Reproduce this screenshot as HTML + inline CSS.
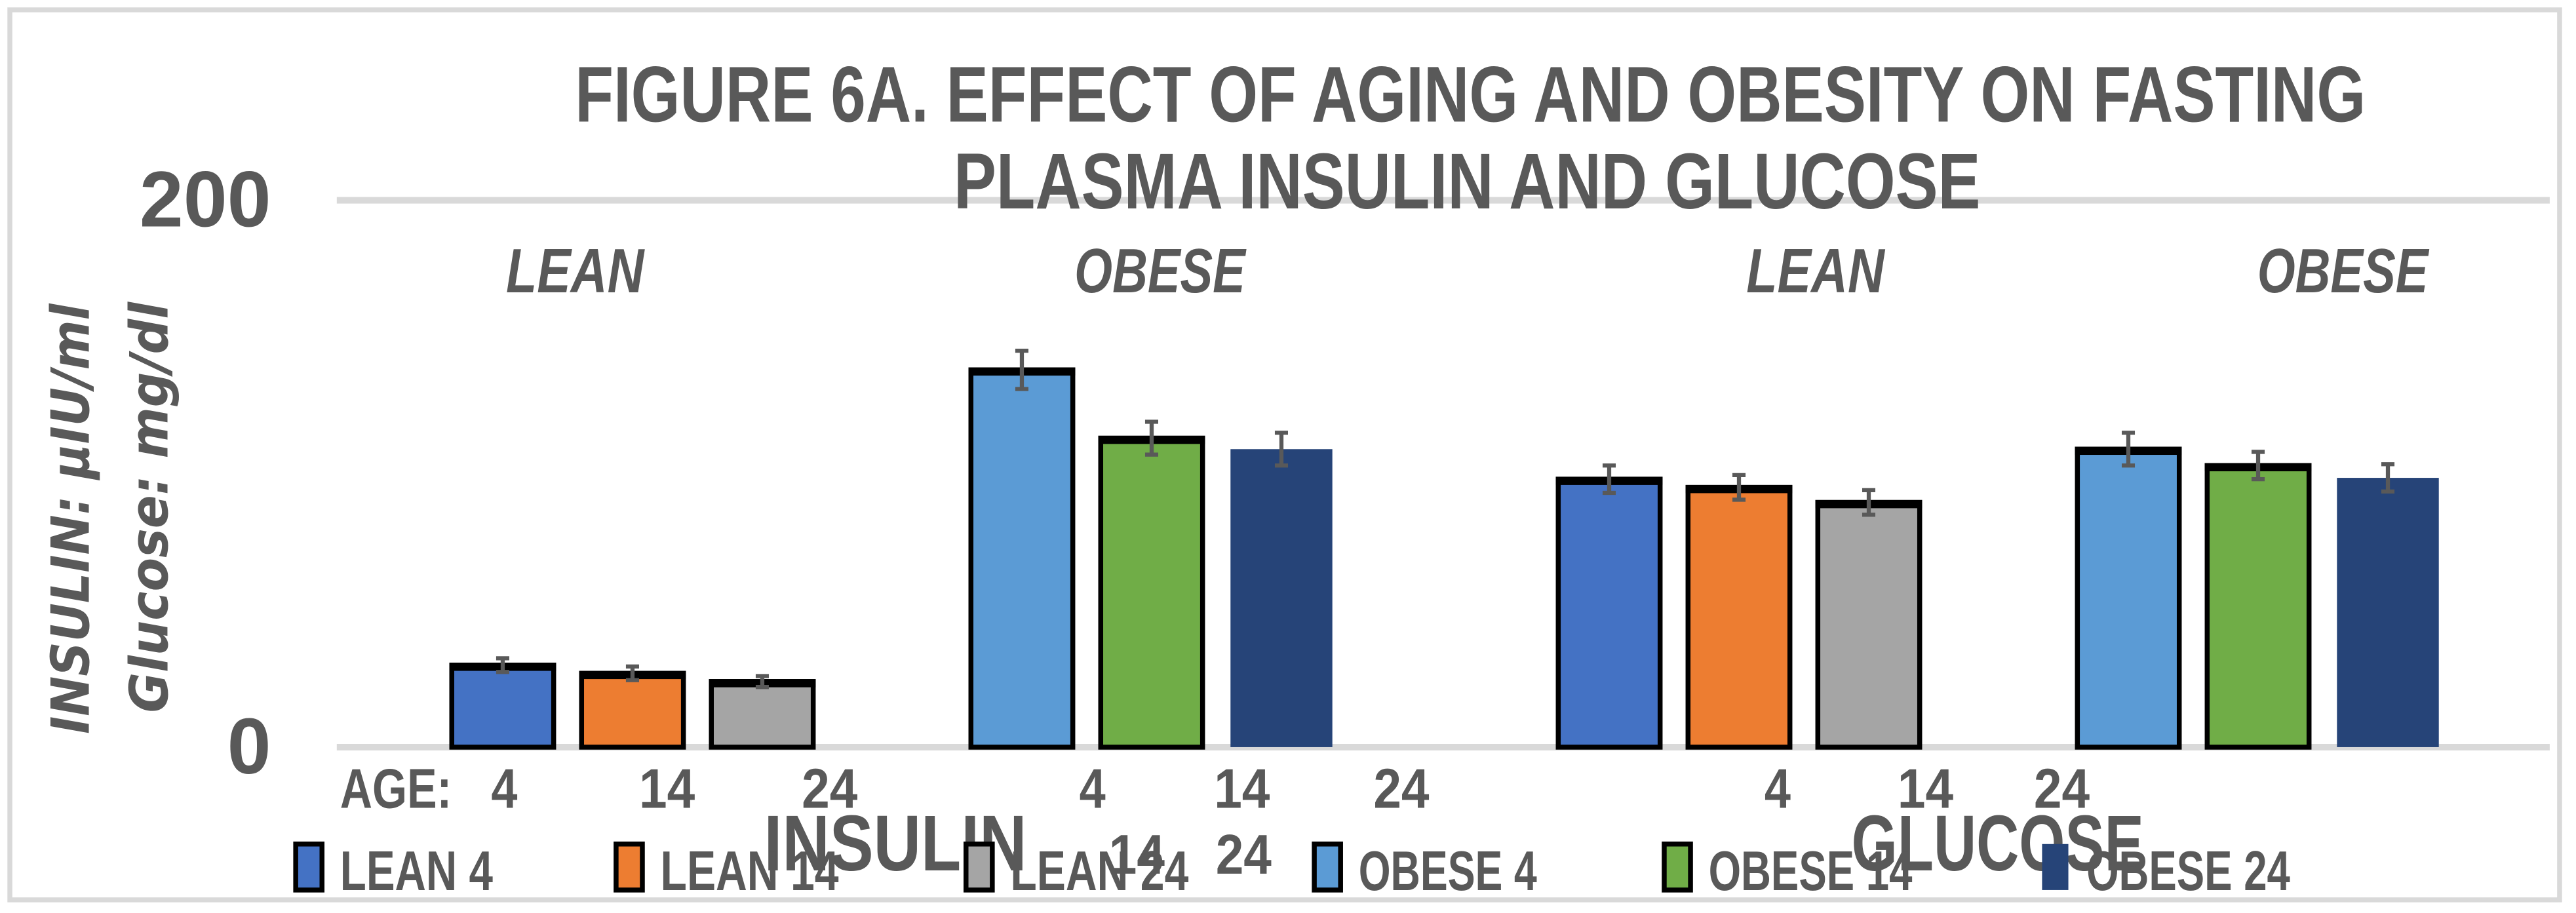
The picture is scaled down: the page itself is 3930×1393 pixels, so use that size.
<!DOCTYPE html>
<html><head><meta charset="utf-8"><style>
html,body{margin:0;padding:0;background:#fff;}
svg{display:block;}
text{font-family:"Liberation Sans",sans-serif;font-weight:bold;fill:#595959;}
</style></head><body>
<svg id="chart" width="3930" height="1393" viewBox="0 0 1568 556" preserveAspectRatio="none" xmlns="http://www.w3.org/2000/svg">
<rect x="6" y="6" width="1552" height="542" fill="#fff" stroke="#d9d9d9" stroke-width="3"/>
<g id="grid"></g>
<text x="895" y="74" text-anchor="middle" font-size="48" textLength="1090" lengthAdjust="spacingAndGlyphs">FIGURE 6A.  EFFECT OF AGING AND OBESITY ON FASTING</text>
<text x="893" y="127" text-anchor="middle" font-size="48" textLength="625" lengthAdjust="spacingAndGlyphs">PLASMA  INSULIN AND GLUCOSE</text>
<g id="bars"></g>
<text transform="translate(54,316) rotate(-90)" text-anchor="middle" font-size="32" font-style="italic" style="font-family:'DejaVu Sans',sans-serif" textLength="262" lengthAdjust="spacingAndGlyphs">INSULIN: µIU/ml</text>
<text transform="translate(102,309) rotate(-90)" text-anchor="middle" font-size="32" font-style="italic" style="font-family:'DejaVu Sans',sans-serif" textLength="250" lengthAdjust="spacingAndGlyphs">Glucose: mg/dl</text>
<text x="350" y="178" text-anchor="middle" font-size="38" font-style="italic" textLength="84" lengthAdjust="spacingAndGlyphs">LEAN</text>
<text x="706" y="178" text-anchor="middle" font-size="38" font-style="italic" textLength="104" lengthAdjust="spacingAndGlyphs">OBESE</text>
<text x="1105" y="178" text-anchor="middle" font-size="38" font-style="italic" textLength="84" lengthAdjust="spacingAndGlyphs">LEAN</text>
<text x="1426" y="178" text-anchor="middle" font-size="38" font-style="italic" textLength="104" lengthAdjust="spacingAndGlyphs">OBESE</text>
<g font-size="34">
<text x="207" y="492" textLength="68" lengthAdjust="spacingAndGlyphs">AGE:</text>
<text x="307" y="492" text-anchor="middle" textLength="16" lengthAdjust="spacingAndGlyphs">4</text>
<text x="406" y="492" text-anchor="middle" textLength="34" lengthAdjust="spacingAndGlyphs">14</text>
<text x="505" y="492" text-anchor="middle" textLength="34" lengthAdjust="spacingAndGlyphs">24</text>
<text x="665" y="492" text-anchor="middle" textLength="16" lengthAdjust="spacingAndGlyphs">4</text>
<text x="756" y="492" text-anchor="middle" textLength="34" lengthAdjust="spacingAndGlyphs">14</text>
<text x="853" y="492" text-anchor="middle" textLength="34" lengthAdjust="spacingAndGlyphs">24</text>
<text x="1082" y="492" text-anchor="middle" textLength="16" lengthAdjust="spacingAndGlyphs">4</text>
<text x="1172" y="492" text-anchor="middle" textLength="34" lengthAdjust="spacingAndGlyphs">14</text>
<text x="1255" y="492" text-anchor="middle" textLength="34" lengthAdjust="spacingAndGlyphs">24</text>
<text x="692" y="532" text-anchor="middle" textLength="34" lengthAdjust="spacingAndGlyphs">14</text>
<text x="757" y="532" text-anchor="middle" textLength="34" lengthAdjust="spacingAndGlyphs">24</text>
</g>
<text x="545" y="530" text-anchor="middle" font-size="48" textLength="160" lengthAdjust="spacingAndGlyphs">INSULIN</text>
<text x="1216" y="530" text-anchor="middle" font-size="48" textLength="178" lengthAdjust="spacingAndGlyphs">GLUCOSE</text>
<g id="legend"></g>
</svg>
<script>
const categories = ["INSULIN", "GLUCOSE"];
const seriesNames = ["LEAN 4", "LEAN 14", "LEAN 24", "OBESE 4", "OBESE 14", "OBESE 24"];
const seriesColors = ["#4472c4", "#ed7d31", "#a5a5a5", "#5b9bd5", "#70ad47", "#264478"];
const insulinValues = [30, 27, 24, 138, 113, 109];
const glucoseValues = [98, 95, 89.5, 109, 103, 98.5];
const insulinErrors = [2.5, 2.5, 2, 7, 6, 6];
const glucoseErrors = [5, 4.5, 4.5, 6, 5, 5];
const yTicks = [0, 200];
const NS = "http://www.w3.org/2000/svg";
const plotLeft = 205, plotRight = 1552, y0 = 455, y200 = 122;
const yMax = 200;
function yScale(v){ return y0 - (v / yMax) * (y0 - y200); }
const catW = (plotRight - plotLeft) / categories.length;
const slot = 79, barW = 62;
const slotIdx = [0, 1, 2, 4, 5, 6];
function xScale(ci, si){ return plotLeft + ci * catW + 101 + slotIdx[si] * slot; }
function mk(tag, attrs){ const e = document.createElementNS(NS, tag); for (const k in attrs) e.setAttribute(k, attrs[k]); return e; }
const grid = document.getElementById("grid");
yTicks.forEach(t => {
  const y = yScale(t);
  const l = mk("line", {x1: plotLeft, x2: plotRight, y1: y, y2: y, stroke: "#d9d9d9", "stroke-width": 4});
  
  
  grid.appendChild(l);
  const tx = mk("text", {x: 165, y: y + 16, "text-anchor": "end", "font-size": "48"});
  tx.textContent = String(t);
  
  
  grid.appendChild(tx);
});
const bars = document.getElementById("bars");
const allVals = [insulinValues, glucoseValues];
const allErrs = [insulinErrors, glucoseErrors];
categories.forEach((c, ci) => {
  allVals[ci].forEach((v, si) => {
    const cx = xScale(ci, si);
    const top = yScale(v);
    const outlined = si !== 5;
    const r = mk("rect", {x: cx - barW/2, y: top, width: barW, height: y0 - top, fill: seriesColors[si],
      stroke: outlined ? "#000" : "none", "stroke-width": outlined ? 3 : 0});
    
    
    bars.appendChild(r);
    if (outlined) {
      const tb = mk("rect", {x: cx - barW/2 - 1.5, y: top - 1.5, width: barW + 3, height: 5, fill: "#000"});
      
      
      bars.appendChild(tb);
    }
    const e = allErrs[ci][si];
    const ey1 = yScale(v + e), ey2 = yScale(v - e);
    const g = mk("path", {d: `M${cx},${ey1}V${ey2}M${cx-4},${ey1}H${cx+4}M${cx-4},${ey2}H${cx+4}`, stroke: "#595959", "stroke-width": 2.5, fill: "none"});
    
    
    bars.appendChild(g);
  });
});
const legend = document.getElementById("legend");
const legendX = [180, 375, 588, 800, 1013, 1243];
seriesNames.forEach((n, i) => {
  const outlined = i !== 5;
  const sq = mk("rect", {x: legendX[i], y: 514, width: 16, height: 28, fill: seriesColors[i], stroke: outlined ? "#000" : "none", "stroke-width": outlined ? 3 : 0});
  
  
  legend.appendChild(sq);
  const t = mk("text", {x: legendX[i] + 27, y: 542, "font-size": "34", textLength: n.length * 15.5, lengthAdjust: "spacingAndGlyphs"});
  t.textContent = n;
  
  
  legend.appendChild(t);
});
</script>
</body></html>
